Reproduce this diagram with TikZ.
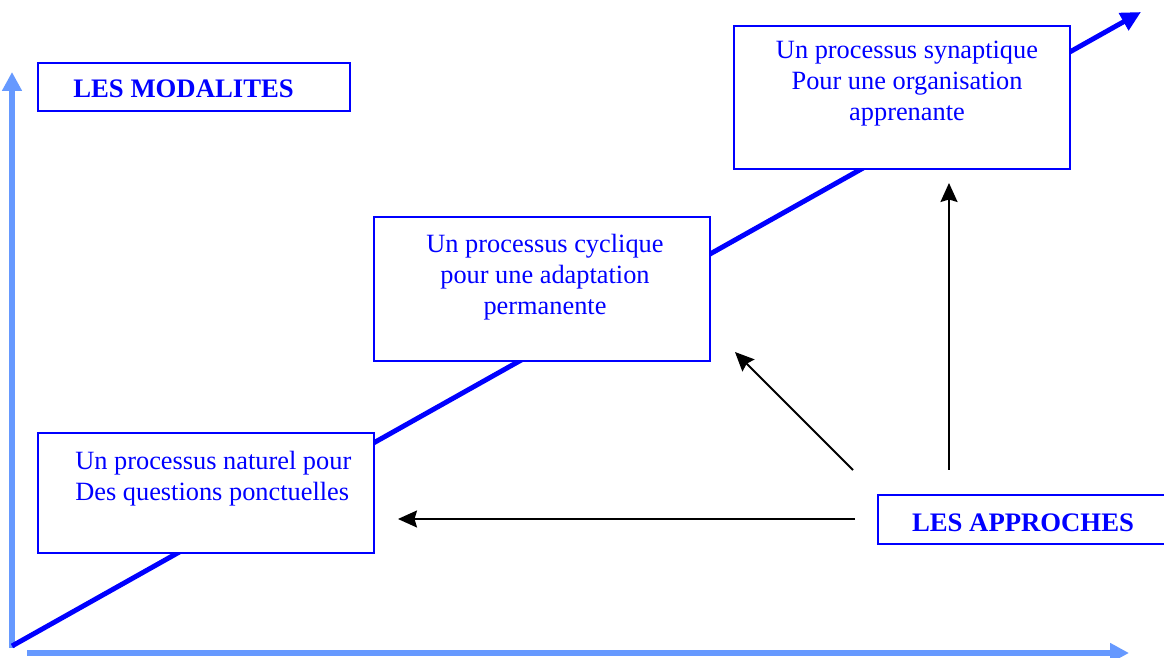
\documentclass[tikz,border=0pt]{standalone}
\usepackage{fontspec}
\setmainfont{Liberation Serif}
\usepackage{xcolor}
\usetikzlibrary{positioning, arrows.meta}

\definecolor{axisblue}{RGB}{102,153,255}
\definecolor{lineblue}{RGB}{0,0,255}

\tikzset{
    box/.style={draw=lineblue, line width=1.1pt, fill=white, anchor=north west, inner sep=0pt},
    txt/.style={text=lineblue, inner sep=0pt, font=\fontsize{15}{17.6}\selectfont},
    bold/.style={text=lineblue, inner sep=0pt, font=\fontsize{15.2}{17.6}\selectfont\bfseries},
    axis/.style={axisblue, line width=3.2pt, -{Triangle[length=0.38cm, width=0.38cm]}},
    link/.style={black, line width=1.1pt, -{Stealth[length=0.38cm, width=0.34cm, inset=0.05cm]}}
}

\begin{document}
\begin{tikzpicture}[x=0.02cm, y=-0.02cm]
            \useasboundingbox (0,0) rectangle (1164,658);

            % Axes
            \coordinate (origin-v) at (12,648);
            \coordinate (top-v) at (12,72);
            \coordinate (origin-h) at (27,653);
            \coordinate (end-h) at (1129,653);
            \draw[axis] (origin-v) -- (top-v);
            \draw[axis] (origin-h) -- (end-h);

            % Progression line (behind the boxes)
            \coordinate (start-d) at (12,646);
            \coordinate (end-d) at (1141,12);
            \draw[lineblue, line width=2.8pt, -{Triangle[length=0.4cm, width=0.38cm]}] (start-d) -- (end-d);

            % Boxes
            \node[box, minimum width=6.24cm, minimum height=0.96cm] (modalites) at (37,62) {};
            \node[box, minimum width=6.72cm, minimum height=2.86cm] (synaptique) at (733,25) {};
            \node[box, minimum width=6.72cm, minimum height=2.88cm] (cyclique) at (373,216) {};
            \node[box, minimum width=6.72cm, minimum height=2.40cm] (naturel) at (37,432) {};
            \node[box, minimum width=6.00cm, minimum height=0.98cm] (approches) at (877,494) {};

            % Texts
            \node[bold, anchor=base west] (modalites-txt) at (73,98) {LES MODALITES};
            \node[txt, anchor=north, align=center] (synaptique-txt) at (907,41)
                {Un processus synaptique\\Pour une organisation\\apprenante};
            \node[txt, anchor=north, align=center] (cyclique-txt) at (545,234)
                {Un processus cyclique\\pour une adaptation\\permanente};
            \node[txt, anchor=north west, align=left] (naturel-txt) at (75,451)
                {Un processus naturel pour\\Des questions ponctuelles};
            \node[bold, anchor=base] (approches-txt) at (1023,532) {LES APPROCHES};

            % Arrows from the approaches
            \coordinate (h-start) at (855,519);
            \coordinate (h-end) at (398,519);
            \coordinate (d-start) at (853,470);
            \coordinate (d-end) at (735,352);
            \coordinate (v-start) at (949,470);
            \coordinate (v-end) at (949,183);
            \draw[link] (h-start) -- (h-end);
            \draw[link] (d-start) -- (d-end);
            \draw[link] (v-start) -- (v-end);
        \end{tikzpicture}
\end{document}
